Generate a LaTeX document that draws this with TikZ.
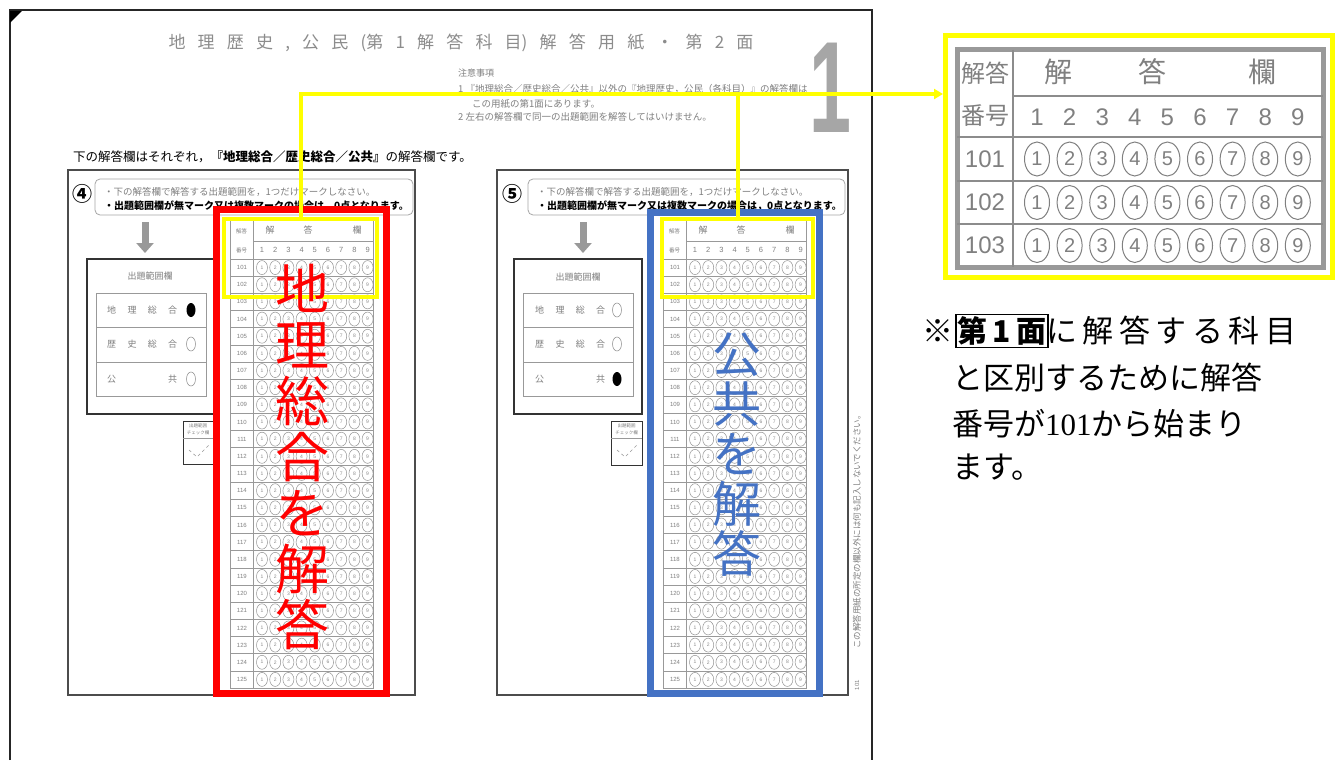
\documentclass[tikz,border=0pt]{standalone}
\usepackage{fontspec}
\setmainfont{Noto Sans CJK JP}
\newfontfamily\latinsans{Liberation Sans}
\newfontfamily\serifd{Liberation Serif}
\usetikzlibrary{arrows.meta,shapes.geometric}
\definecolor{yel}{RGB}{255,255,0}
\definecolor{blu}{RGB}{68,114,196}
\definecolor{redc}{RGB}{255,0,0}
\newcommand\fsz[1]{\fontsize{#1}{#1}\selectfont}
\tikzset{
  gline/.style={draw=black!40, line width=0.6pt},
  gtxt/.style={text=black!50, inner sep=0pt},
  bubble/.style={ellipse, draw=black!42, line width=0.5pt, inner sep=0pt,
    minimum width=11pt, minimum height=14pt, text=black!45, font=\latinsans\fsz{5}},
  mbubble/.style={ellipse, draw=black!50, line width=1pt, inner sep=0pt,
    minimum width=25pt, minimum height=34pt, text=black!50, font=\latinsans\fsz{20}},
  pbox/.style={draw=black!80, line width=1.2pt},
  yelbox/.style={draw=yel, line width=4pt, inner sep=0pt},
  yelline/.style={draw=yel, line width=4pt},
  graydown/.style={draw=black!40, line width=7pt, -{Triangle[width=17pt,length=10pt]}},
}
\newcommand\ansgrid[2]{%
 \begin{scope}[shift={(#1,0)}]
  \draw[gline] (0,220) rectangle (143,688);
  \draw[gline] (23,220) -- (23,688) (23,241) -- (143,241) (0,259) -- (143,259);
  \foreach \k in {1,...,24}{\draw[gline] (0,{259+17.16*\k}) -- (143,{259+17.16*\k});}
  \node[gtxt,font=\fsz{5.5}] (#2ha) at (11.5,231) {解答};
  \node[gtxt,font=\fsz{5.5}] (#2hb) at (11.5,250) {番号};
  \node[gtxt,font=\fsz{9}] (#2k1) at (40,230) {解};
  \node[gtxt,font=\fsz{9}] (#2k2) at (78,230) {答};
  \node[gtxt,font=\fsz{9}] (#2k3) at (127,230) {欄};
  \foreach \i in {1,...,9}{\node[gtxt,font=\latinsans\fsz{7.5}] (#2n\i) at ({32+13.2*(\i-1)},250) {\i};}
  \foreach \k in {1,...,25}{
    \pgfmathtruncatemacro\rn{100+\k}
    \node[gtxt,font=\latinsans\fsz{6}] (#2r\k) at (12,{259+17.16*(\k-0.5)}) {\rn};
    \foreach \i in {1,...,9}{\node[bubble] (#2b\k-\i) at ({32+13.2*(\i-1)},{259+17.16*(\k-0.5)}) {\i};}
  }
 \end{scope}}
\begin{document}
\begin{tikzpicture}[x=1pt,y=-1pt]
\useasboundingbox (0,0) rectangle (1340,760);
\fill[white] (0,0) rectangle (1340,760);
% page frame
\draw[black!85, line width=1.5pt] (10,760) -- (10,10) -- (872,10) -- (872,760);
\fill[black] (10,11) -- (22,11) -- (10,23) -- cycle;
% title
\node[text=black!45, inner sep=0pt, font=\fsz{17}] (title) at (461,43)
  {\hbox to 585pt{地\hfil 理\hfil 歴\hfil 史\hfil ,\hfil 公\hfil 民\hfil (第\hfil 1\hfil 解\hfil 答\hfil 科\hfil 目)\hfil 解\hfil 答\hfil 用\hfil 紙\hfil ・\hfil 第\hfil 2\hfil 面}};
\node[text=black!35, inner sep=0pt, font=\latinsans\bfseries\fsz{130}] (big1) at (830,88) {\scalebox{0.58}[1]{1}};
\node[gtxt, anchor=west, font=\fsz{9}] (chui) at (458,73) {注意事項};
\node[gtxt, anchor=west, font=\fsz{9.5}] (c1) at (458,89) {1 『地理総合／歴史総合／公共』以外の『地理歴史，公民（各科目）』の解答欄は};
\node[gtxt, anchor=west, font=\fsz{9.5}] (c2) at (472,104) {この用紙の第1面にあります。};
\node[gtxt, anchor=west, font=\fsz{9.5}] (c3) at (458,117) {2 左右の解答欄で同一の出題範囲を解答してはいけません。};
\node[anchor=west, inner sep=0pt, font=\fsz{12.5}] (lead) at (73,157) {下の解答欄はそれぞれ，{\bfseries『地理総合／歴史総合／公共』}の解答欄です。};
% ---------- left panel
\draw[draw=black!70, line width=1.3pt] (68,170) rectangle (415,695);
\node[inner sep=0pt, font=\bfseries\fsz{20}] (c4) at (82,194) {④};
\draw[draw=black!35, line width=0.8pt, rounded corners=5pt] (95,179) rectangle (413,215);
\node[gtxt, anchor=west, font=\fsz{9.5}] (li1) at (104,192) {・下の解答欄で解答する出題範囲を，1つだけマークしなさい。};
\node[anchor=west, inner sep=0pt, font=\bfseries\fsz{10}] (li2) at (104,206) {・出題範囲欄が無マーク又は複数マークの場合は，0点となります。};
\draw[graydown] (145,222) -- (145,253);
\draw[pbox] (87,259) rectangle (215,414);
\node[gtxt, font=\fsz{9}] (lrt) at (150,276) {出題範囲欄};
\draw[gline] (96,293) rectangle (206,396) (96,327) -- (206,327) (96,362) -- (206,362);
\node[gtxt, anchor=west, font=\fsz{9}] (la1) at (107,310) {\hbox to 70pt{地\hfil 理\hfil 総\hfil 合}};
\node[gtxt, anchor=west, font=\fsz{9}] (la2) at (107,344) {\hbox to 70pt{歴\hfil 史\hfil 総\hfil 合}};
\node[gtxt, anchor=west, font=\fsz{9}] (la3) at (107,379) {\hbox to 70pt{公\hfil 共}};
\fill[black] (191,310) ellipse [x radius=4.5, y radius=7];
\draw[gline] (191,344) ellipse [x radius=4.5, y radius=7];
\draw[gline] (191,379) ellipse [x radius=4.5, y radius=7];
\draw[pbox, line width=1pt] (183,421) rectangle (214,464);
\draw[gline] (183,438) -- (214,438);
\node[gtxt, font=\fsz{4.5}] (lck1) at (198,426) {出題範囲};
\node[gtxt, font=\fsz{4.5}] (lck2) at (198,433) {チェック欄};
\draw[gline, dashed] (189,450) -- (197,457) -- (209,445);
\ansgrid{230}{L}
% ---------- right panel
\draw[draw=black!70, line width=1.3pt] (497,170) rectangle (848,695);
\node[inner sep=0pt, font=\bfseries\fsz{20}] (c5) at (512,194) {⑤};
\draw[draw=black!35, line width=0.8pt, rounded corners=5pt] (528,179) rectangle (845,215);
\node[gtxt, anchor=west, font=\fsz{9.5}] (ri1) at (537,192) {・下の解答欄で解答する出題範囲を，1つだけマークしなさい。};
\node[anchor=west, inner sep=0pt, font=\bfseries\fsz{10}] (ri2) at (537,206) {・出題範囲欄が無マーク又は複数マークの場合は，0点となります。};
\draw[graydown] (583,222) -- (583,253);
\draw[pbox] (514,259) rectangle (642,414);
\node[gtxt, font=\fsz{9}] (rrt) at (578,277) {出題範囲欄};
\draw[gline] (523,293) rectangle (633,396) (523,327) -- (633,327) (523,362) -- (633,362);
\node[gtxt, anchor=west, font=\fsz{9}] (ra1) at (535,310) {\hbox to 70pt{地\hfil 理\hfil 総\hfil 合}};
\node[gtxt, anchor=west, font=\fsz{9}] (ra2) at (535,344) {\hbox to 70pt{歴\hfil 史\hfil 総\hfil 合}};
\node[gtxt, anchor=west, font=\fsz{9}] (ra3) at (535,379) {\hbox to 70pt{公\hfil 共}};
\draw[gline] (617,310) ellipse [x radius=4.5, y radius=7];
\draw[gline] (617,344) ellipse [x radius=4.5, y radius=7];
\fill[black] (617,379) ellipse [x radius=4.5, y radius=7];
\draw[pbox, line width=1pt] (611,421) rectangle (642,465);
\draw[gline] (611,438) -- (642,438);
\node[gtxt, font=\fsz{4.5}] (rck1) at (626.5,426) {出題範囲};
\node[gtxt, font=\fsz{4.5}] (rck2) at (626.5,433) {チェック欄};
\draw[gline, dashed] (617,450) -- (625,457) -- (637,445);
\ansgrid{663}{R}
% side text
\node[gtxt, rotate=90, font=\fsz{8.5}] (side) at (857,530) {この解答用紙の所定の欄以外には何も記入しないでください。};
\node[gtxt, rotate=90, font=\latinsans\fsz{6}] (code) at (857,685) {101};
% ---------- highlight boxes
\node[yelbox, minimum width=153pt, minimum height=78pt] (yl) at (300.5,258) {};
\node[yelbox, minimum width=151pt, minimum height=78pt] (yr) at (737.5,258) {};
\node[draw=redc, line width=7pt, minimum width=170pt, minimum height=484pt, inner sep=0pt] (redbox) at (301.5,451.5) {};
\node[draw=blu, line width=7pt, minimum width=169pt, minimum height=481pt, inner sep=0pt] (bluebox) at (735,453) {};
\node[text=redc, align=center, inner sep=0pt, font=\fontsize{54}{56}\selectfont] (redtxt) at (302,457) {地\\理\\総\\合\\を\\解\\答};
\node[text=blu, align=center, inner sep=0pt, font=\fontsize{49}{50}\selectfont] (bluetxt) at (737,455) {公\\共\\を\\解\\答};
% ---------- magnified grid
\node[draw=yel, line width=5pt, minimum width=387pt, minimum height=242pt, inner sep=0pt] (mag) at (1139,156.5) {};
\draw[black!40, line width=5pt] (957,50) rectangle (1323,267);
\draw[black!45, line width=1.5pt] (1013,50) -- (1013,267) (1013,96) -- (1323,96)
  (957,137) -- (1323,137) (957,181) -- (1323,181) (957,224) -- (1323,224);
\node[gtxt, font=\fsz{24}] (mh1) at (985,73) {解答};
\node[gtxt, font=\fsz{24}] (mh2) at (985,116) {番号};
\node[gtxt, font=\fsz{28}] (mk1) at (1058,72) {解};
\node[gtxt, font=\fsz{28}] (mk2) at (1152,72) {答};
\node[gtxt, font=\fsz{28}] (mk3) at (1262,72) {欄};
\foreach \i in {1,...,9}{\node[gtxt, font=\latinsans\fsz{24}] (mn\i) at ({1037+32.6*(\i-1)},117) {\i};}
\foreach \r/\yy in {101/159,102/202.5,103/245.5}{
  \node[gtxt, font=\latinsans\fsz{24}] (mr\r) at (985,\yy) {\r};
  \foreach \i in {1,...,9}{\node[mbubble] (mb\r-\i) at ({1037+32.6*(\i-1)},\yy) {\i};}
}
% ---------- connectors
\coordinate (magin) at (943,94);
\draw[yelline, -{Triangle[length=9pt,width=10pt]}] (yl.north) |- (magin);
\draw[yelline] (yr.north) -- (yr.north |- magin);
% ---------- note
\node[anchor=west, inner sep=0pt, font=\fsz{31}] (kome) at (922,331) {※};
\node[draw=black, line width=1.5pt, inner sep=2pt, anchor=west, font=\bfseries\fsz{30}] (dai) at (955,331) {第\,1\,面};
\node[anchor=west, inner sep=0pt, font=\fsz{31}] (n1) at (1046,331) {\hbox to 250pt{に\hfil 解\hfil 答\hfil す\hfil る\hfil 科\hfil 目}};
\node[anchor=west, inner sep=0pt, font=\fsz{31}] (n2) at (952,378) {と区別するために解答};
\node[anchor=west, inner sep=0pt, font=\fsz{31}] (n3) at (952,424) {番号が{\serifd 101}から始まり};
\node[anchor=west, inner sep=0pt, font=\fsz{31}] (n4) at (952,467) {ます。};
\end{tikzpicture}
\end{document}
